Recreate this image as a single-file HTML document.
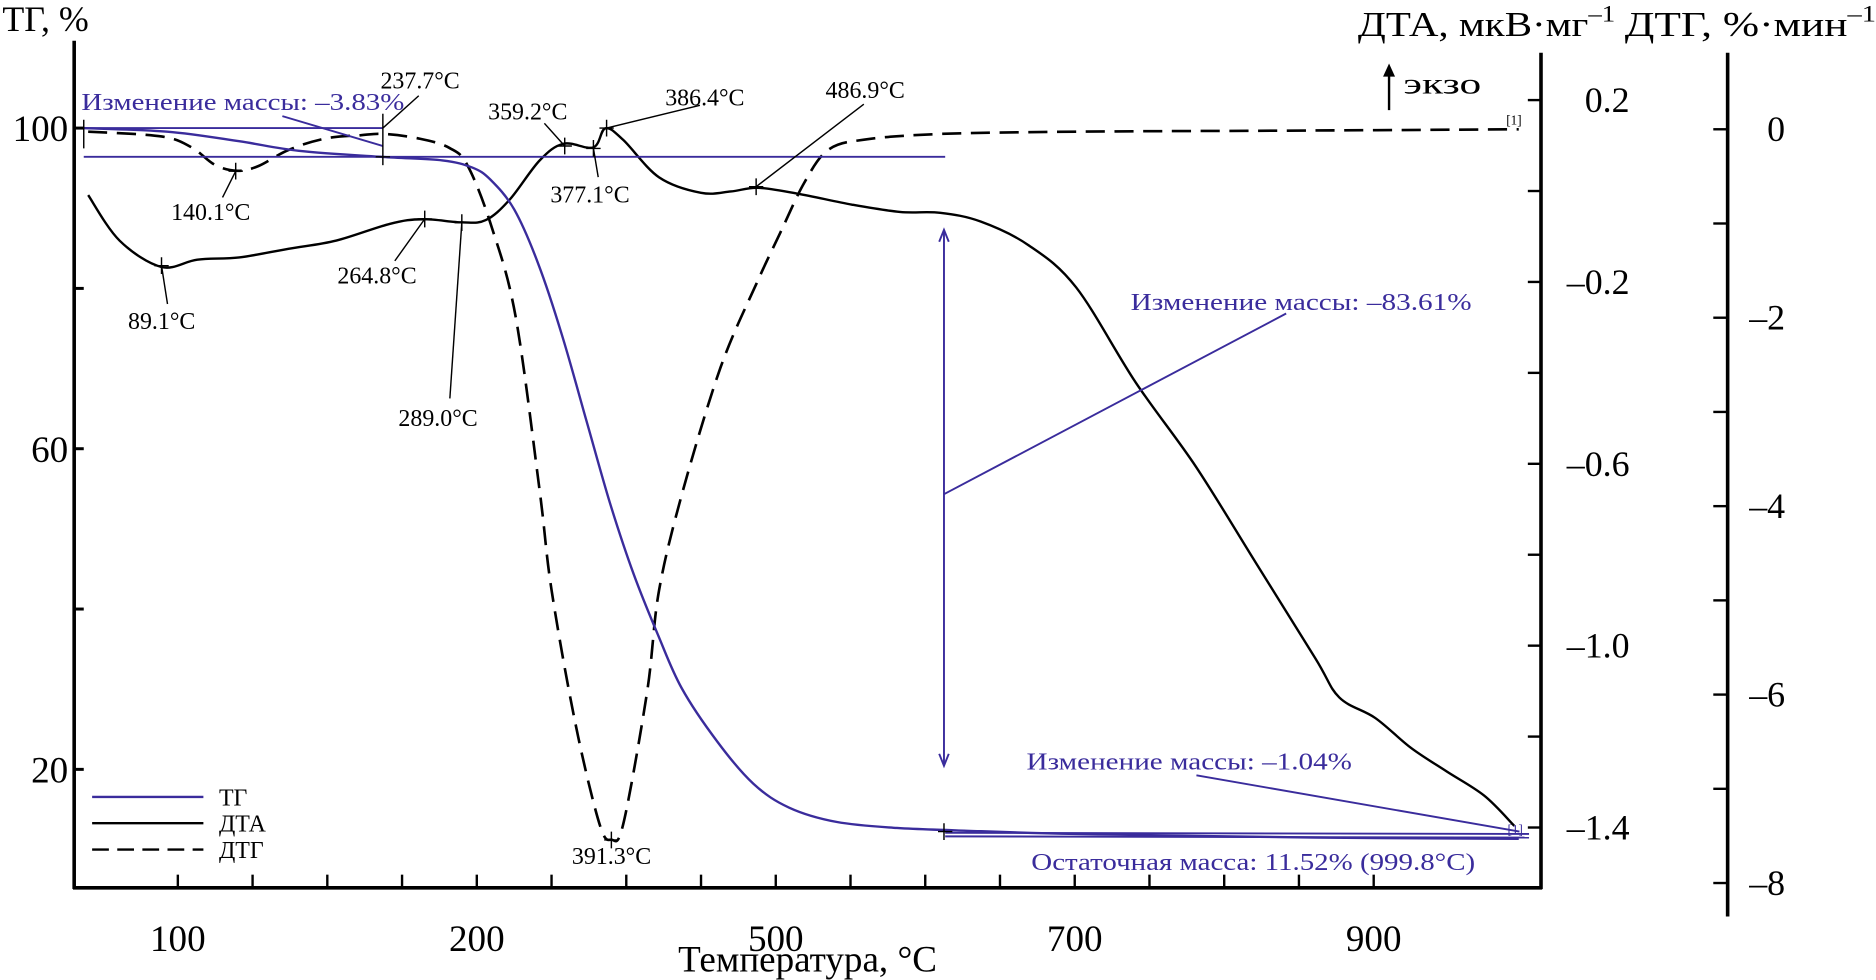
<!DOCTYPE html>
<html><head><meta charset="utf-8"><style>
html,body{margin:0;padding:0;background:#fff;}
svg{display:block;}
text{font-family:"Liberation Serif","DejaVu Serif",serif;}
</style></head><body>
<svg id="chart" width="1876" height="980" viewBox="0 0 1568 819" xmlns="http://www.w3.org/2000/svg">
<g id="axes"></g>
<g id="plot"></g>
</svg>
<script>
// ---- data ----
const xTickTemps = [100,150,200,250,300,350,400,450,500,550,600,650,700,750,800,850,900];
const xTickLabels = {100:"100",300:"200",500:"500",700:"700",900:"900"};
const tgTicks = [100,80,60,40,20];
const tgTickLabels = {100:"100",60:"60",20:"20"};
const dtaTicks = [0.2,0,-0.2,-0.4,-0.6,-0.8,-1.0,-1.2,-1.4];
const dtaTickLabels = {"0.2":"0.2","-0.2":"–0.2","-0.6":"–0.6","-1":"–1.0","-1.4":"–1.4"};
const dtgTicks = [0,-1,-2,-3,-4,-5,-6,-7,-8];
const dtgTickLabels = {"0":"0","-2":"–2","-4":"–4","-6":"–6","-8":"–8"};

const tgT = [37,93,141,181,237,277,297,309,325,341,357,373,389,405,421,437,461,485,509,541,581,621,701,861,997];
const tgV = [100,99.55,98.36,97.16,96.4,95.97,95.07,93.58,89.85,83.13,74.18,63.73,53.28,44.33,36.87,30.15,23.43,18.21,15.22,13.43,12.69,12.39,11.94,11.49,11.34];

const dtaT = [40,61,89,113,141,174,206,242,264,290,306,322,342,358,378,386,398,422,450,470,488,515,551,583,610,637,669,701,741,781,821,861,877,901,925,949,974,994];
const dtaV = [-0.009,-0.109,-0.167,-0.151,-0.146,-0.127,-0.109,-0.072,-0.062,-0.069,-0.064,-0.019,0.067,0.104,0.096,0.138,0.112,0.030,-0.004,-0.001,0.007,-0.006,-0.030,-0.046,-0.048,-0.067,-0.119,-0.212,-0.422,-0.606,-0.817,-1.028,-1.114,-1.159,-1.225,-1.277,-1.330,-1.396];

const dtgT = [40,89,109,125,140,154,174,198,222,238,262,282,294,310,326,342,350,366,382,390,398,414,422,438,463,487,503,519,535,559,610,701,861,997];
const dtgV = [-0.025,-0.076,-0.19,-0.38,-0.44,-0.39,-0.22,-0.10,-0.063,-0.05,-0.10,-0.20,-0.39,-1.04,-1.99,-3.83,-4.89,-6.31,-7.37,-7.54,-7.37,-5.96,-4.89,-3.83,-2.53,-1.64,-1.10,-0.57,-0.22,-0.11,-0.05,-0.025,-0.013,0];

// ---- scales ----
const X = t => 23.7 + 1.2494*t;
const Ytg = v => 107 + (100-v)*6.7;
const Ydta = v => 83.6 + (0.2-v)*380;
const Ydtg = v => 108 - v*78.75;

const NS="http://www.w3.org/2000/svg";
function mk(tag, attrs, parent){const e=document.createElementNS(NS,tag);for(const k in attrs)e.setAttribute(k,attrs[k]);parent.appendChild(e);return e;}
const axes=document.getElementById('axes'), plot=document.getElementById('plot');
const BLUE="#3a2c9c";

let e;
e=mk('line',{x1:62,y1:34,x2:62,y2:743,stroke:'#000','stroke-width':3},axes);


e=mk('line',{x1:61,y1:742,x2:1289,y2:742,stroke:'#000','stroke-width':3},axes);


e=mk('line',{x1:1288,y1:44,x2:1288,y2:743,stroke:'#000','stroke-width':3},axes);


e=mk('line',{x1:1444,y1:44,x2:1444,y2:766,stroke:'#000','stroke-width':3},axes);



xTickTemps.forEach(t=>{
  const x=X(t);
  e=mk('line',{x1:x,y1:742,x2:x,y2:731,stroke:'#000','stroke-width':2},axes);
  
  
  if(xTickLabels[t]){
    e=mk('text',{x:x,y:795,'font-size':31,'text-anchor':'middle'},axes);e.textContent=xTickLabels[t];
    
    
  }
});
tgTicks.forEach(v=>{
  const y=Ytg(v);
  e=mk('line',{x1:62,y1:y,x2:70,y2:y,stroke:'#000','stroke-width':2.5},axes);
  
  
  if(tgTickLabels[v]){
    e=mk('text',{x:57,y:y+11,'font-size':31,'text-anchor':'end'},axes);e.textContent=tgTickLabels[v];
    
    
  }
});
dtaTicks.forEach(v=>{
  const y=Ydta(v);
  e=mk('line',{x1:1277,y1:y,x2:1288,y2:y,stroke:'#000','stroke-width':2},axes);
  
  
  const k=String(Math.round(v*10)/10);
  if(dtaTickLabels[k]){
    e=mk('text',{x:1362,y:y+10,'font-size':30,'text-anchor':'end'},axes);e.textContent=dtaTickLabels[k];
    
    
  }
});
dtgTicks.forEach(v=>{
  const y=Ydtg(v);
  e=mk('line',{x1:1432,y1:y,x2:1444,y2:y,stroke:'#000','stroke-width':2},axes);
  
  
  if(dtgTickLabels[String(v)]){
    e=mk('text',{x:1492,y:y+10,'font-size':30,'text-anchor':'end'},axes);e.textContent=dtgTickLabels[String(v)];
    
    
  }
});

function path(T,V,Y){
  const p=T.map((t,i)=>[X(t),Y(V[i])]);
  let d='M'+p[0][0].toFixed(1)+','+p[0][1].toFixed(1);
  for(let i=0;i<p.length-1;i++){
    const p0=p[Math.max(0,i-1)],p1=p[i],p2=p[i+1],p3=p[Math.min(p.length-1,i+2)];
    const c1x=p1[0]+(p2[0]-p0[0])/6,c1y=p1[1]+(p2[1]-p0[1])/6;
    const c2x=p2[0]-(p3[0]-p1[0])/6,c2y=p2[1]-(p3[1]-p1[1])/6;
    d+=' C'+c1x.toFixed(1)+','+c1y.toFixed(1)+' '+c2x.toFixed(1)+','+c2y.toFixed(1)+' '+p2[0].toFixed(1)+','+p2[1].toFixed(1);
  }
  return d;
}
e=mk('path',{d:path(dtgT,dtgV,Ydtg),fill:'none',stroke:'#000','stroke-width':2.2,'stroke-dasharray':'16,8','stroke-linejoin':'round'},plot);


e=mk('path',{d:path(dtaT,dtaV,Ydta),fill:'none',stroke:'#000','stroke-width':2,'stroke-linejoin':'round'},plot);


e=mk('path',{d:path(tgT,tgV,Ytg),fill:'none',stroke:BLUE,'stroke-width':2,'stroke-linejoin':'round'},plot);


</script>
<svg style="position:absolute;left:0;top:0" width="1876" height="980" viewBox="0 0 1568 819" xmlns="http://www.w3.org/2000/svg">
<text x="2" y="26" font-size="30">ТГ, %</text>
<text x="1135" y="30" font-size="29" textLength="215" lengthAdjust="spacingAndGlyphs">ДТА, мкВ·мг<tspan dy="-12" font-size="19">–1</tspan></text>
<text x="1358" y="30" font-size="29" textLength="210" lengthAdjust="spacingAndGlyphs">ДТГ, %·мин<tspan dy="-12" font-size="19">–1</tspan></text>
<line x1="1161" y1="92" x2="1161" y2="62" stroke="#000" stroke-width="2"/>
<polygon points="1156,64 1166,64 1161,53" fill="#000"/>
<text x="1173" y="78" font-size="25" textLength="65" lengthAdjust="spacingAndGlyphs">экзо</text>
<text x="675" y="812" font-size="31" text-anchor="middle">Температура, °C</text>

<g>
<line x1="77" y1="666" x2="170" y2="666" stroke="#3a2c9c" stroke-width="2"/>
<text x="183" y="673" font-size="20">ТГ</text>
<line x1="77" y1="688" x2="170" y2="688" stroke="#000" stroke-width="2"/>
<text x="183" y="695" font-size="20">ДТА</text>
<line x1="77" y1="710" x2="170" y2="710" stroke="#000" stroke-width="2" stroke-dasharray="14,7"/>
<text x="183" y="717" font-size="20">ДТГ</text>
</g>

<g fill="#3a2c9c" stroke="none" font-size="20">
<text x="68" y="92" textLength="270" lengthAdjust="spacingAndGlyphs">Изменение массы: –3.83%</text>
<text x="945" y="259" textLength="285" lengthAdjust="spacingAndGlyphs">Изменение массы: –83.61%</text>
<text x="858" y="643" textLength="272" lengthAdjust="spacingAndGlyphs">Изменение массы: –1.04%</text>
<text x="862" y="727" textLength="371" lengthAdjust="spacingAndGlyphs">Остаточная масса: 11.52% (999.8°C)</text>
</g>
<g stroke="#3a2c9c" stroke-width="1.6" fill="none">
<line x1="70" y1="107" x2="320" y2="107"/>
<line x1="70" y1="131" x2="790" y2="131"/>
<line x1="236" y1="97" x2="320" y2="122"/>
<line x1="789" y1="192" x2="789" y2="640"/>
<polyline points="785,202 789,192 793,202"/>
<polyline points="785,630 789,640 793,630"/>
<line x1="789" y1="413" x2="1075" y2="262"/>
<line x1="1000" y1="648" x2="1270" y2="695"/>
<line x1="790" y1="696" x2="1278" y2="697"/>
<line x1="790" y1="699" x2="1278" y2="700"/>
</g>
<g stroke="#000" stroke-width="1.2" fill="none">
<line x1="320" y1="95" x2="320" y2="138"/>
<line x1="320" y1="107" x2="350" y2="80"/>
<line x1="197" y1="143" x2="186" y2="165"/>
<line x1="135" y1="222" x2="140" y2="254"/>
<line x1="355" y1="183" x2="330" y2="218"/>
<line x1="386" y1="186" x2="376" y2="333"/>
<line x1="472" y1="122" x2="455" y2="103"/>
<line x1="496" y1="124" x2="500" y2="148"/>
<line x1="507" y1="107" x2="585" y2="88"/>
<line x1="632" y1="156" x2="722" y2="87"/>
<path d="M191,143h12M197,136v14 M129,222h12M135,215v14 M349,183h12M355,176v14 M380,186h12M386,179v14 M466,122h12M472,115v14 M490,124h12M496,117v14 M501,107h12M507,100v14 M626,156h12M632,149v14 M505,702h12M511,695v14 M784,695h12M789,688v14 M70,100v24 M314,131h12"/>
</g>
<g font-size="20" fill="#000">
<text x="318" y="74">237.7°C</text>
<text x="143" y="184">140.1°C</text>
<text x="107" y="275">89.1°C</text>
<text x="282" y="237">264.8°C</text>
<text x="333" y="356">289.0°C</text>
<text x="408" y="100">359.2°C</text>
<text x="460" y="169">377.1°C</text>
<text x="556" y="88">386.4°C</text>
<text x="690" y="82">486.9°C</text>
<text x="478" y="722">391.3°C</text>
</g>
<text x="1259" y="104" font-size="11" fill="#000">[1]</text>
<text x="1260" y="697" font-size="11" fill="#3a2c9c">[1]</text>
</svg>
</body></html>
